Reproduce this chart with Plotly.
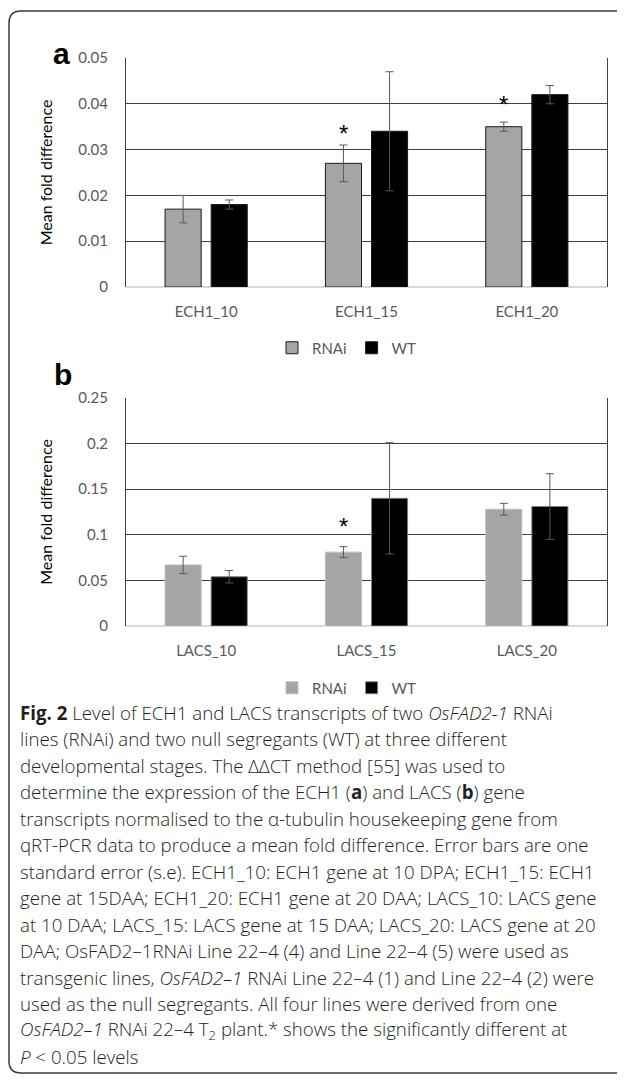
import plotly.graph_objects as go

# page is 625x1082; the html body keeps an 8px margin, so the figure is 609x1066
PAGE_W, PAGE_H = 625, 1082
OFF = 8
W, H = PAGE_W - 2 * OFF, PAGE_H - 2 * OFF

# ---------------- data ----------------
cats_a = ["ECH1_10", "ECH1_15", "ECH1_20"]
rnai_a = [0.017, 0.027, 0.035]
rnai_a_err = [0.003, 0.004, 0.001]
wt_a = [0.018, 0.034, 0.042]
wt_a_err = [0.001, 0.013, 0.002]
sig_a_cats = ["ECH1_15", "ECH1_20"]
sig_a_y = [0.0349, 0.0412]

cats_b = ["LACS_10", "LACS_15", "LACS_20"]
rnai_b = [0.067, 0.081, 0.128]
rnai_b_err = [0.0095, 0.006, 0.0065]
wt_b = [0.054, 0.140, 0.131]
wt_b_err = [0.0068, 0.061, 0.036]
sig_b_cats = ["LACS_15"]
sig_b_y = [0.116]

yticks_a = [0, 0.01, 0.02, 0.03, 0.04, 0.05]
yticks_b = [0, 0.05, 0.1, 0.15, 0.2, 0.25]
ytext_a = ["0", "0.01", "0.02", "0.03", "0.04", "0.05"]
ytext_b = ["0", "0.05", "0.1", "0.15", "0.2", "0.25"]

series_names = ["RNAi", "WT"]
y_title = "Mean fold difference"

caption_lines = [
    "<b>Fig. 2</b> Level of ECH1 and LACS transcripts of two <i>OsFAD2-1</i> RNAi",
    "lines (RNAi) and two null segregants (WT) at three different",
    "developmental stages. The ΔΔCT method [55] was used to",
    "determine the expression of the ECH1 (<b>a</b>) and LACS (<b>b</b>) gene",
    "transcripts normalised to the α-tubulin housekeeping gene from",
    "qRT-PCR data to produce a mean fold difference. Error bars are one",
    "standard error (s.e). ECH1_10: ECH1 gene at 10 DPA; ECH1_15: ECH1",
    "gene at 15DAA; ECH1_20: ECH1 gene at 20 DAA; LACS_10: LACS gene",
    "at 10 DAA; LACS_15: LACS gene at 15 DAA; LACS_20: LACS gene at 20",
    "DAA; OsFAD2–1RNAi Line 22–4 (4) and Line 22–4 (5) were used as",
    "transgenic lines, <i>OsFAD2–1</i> RNAi Line 22–4 (1) and Line 22–4 (2) were",
    "used as the null segregants. All four lines were derived from one",
    "<i>OsFAD2–1</i> RNAi 22–4 T<sub>2</sub> plant.* shows the significantly different at",
    "<i>P</i> &lt; 0.05 levels",
]

# ---------------- styles ----------------
GRAY = "#a5a5a5"
BLACK = "#000000"
ERR = "#595959"
TICK = "#595959"
CHART_FONT = "Lato"
CAP_FONT = "Open Sans"


def px_x(p):
    return (p - OFF) / W


def px_y(p):
    return 1 - (p - OFF) / H


dom_x = [px_x(126), px_x(607)]
dom_ya = [px_y(287), px_y(58)]
dom_yb = [px_y(626), px_y(398)]

fig = go.Figure()


def add_bars(cats, r, re, w, we, xa, ya, legend, outline_r, outline_w):
    fig.add_trace(go.Bar(
        x=cats, y=r, name=series_names[0], xaxis=xa, yaxis=ya, legend=legend,
        marker=dict(color=GRAY, line=dict(color=outline_r, width=1)),
        error_y=dict(type="data", array=re, visible=True, color=ERR, thickness=1, width=4),
    ))
    fig.add_trace(go.Bar(
        x=cats, y=w, name=series_names[1], xaxis=xa, yaxis=ya, legend=legend,
        marker=dict(color=BLACK, line=dict(color=outline_w, width=1)),
        error_y=dict(type="data", array=we, visible=True, color=ERR, thickness=1, width=4),
    ))


add_bars(cats_a, rnai_a, rnai_a_err, wt_a, wt_a_err, "x", "y", "legend", "#1a1a1a", "#1a1a1a")
add_bars(cats_b, rnai_b, rnai_b_err, wt_b, wt_b_err, "x2", "y2", "legend2", "#bfbfbf", "#7f7f7f")

xcommon = dict(type="category", showline=False, showgrid=False, ticks="",
               tickfont=dict(family=CHART_FONT, size=15, color=TICK),
               ticklabelstandoff=14, zeroline=False, fixedrange=True, automargin=False)
ycommon = dict(showgrid=True, gridcolor="#404040", gridwidth=1,
               showline=True, linecolor="#404040", linewidth=1, mirror=True,
               zeroline=True, zerolinecolor="#d9d9d9", zerolinewidth=1.5,
               ticks="", tickfont=dict(family=CHART_FONT, size=15, color=TICK),
               ticklabelstandoff=14, automargin=False, fixedrange=True,
               title=dict(text=y_title, font=dict(family=CHART_FONT, size=16, color="#000000"), standoff=21))

fig.update_layout(
    width=W, height=H,
    margin=dict(l=0, r=0, t=0, b=0, autoexpand=False),
    paper_bgcolor="white", plot_bgcolor="white",
    barmode="group", bargap=0.425, bargroupgap=0.217,
    xaxis=dict(domain=dom_x, anchor="y", **xcommon),
    yaxis=dict(domain=dom_ya, anchor="x", range=[0, 0.05], tickvals=yticks_a, ticktext=ytext_a, **ycommon),
    xaxis2=dict(domain=dom_x, anchor="y2", **xcommon),
    yaxis2=dict(domain=dom_yb, anchor="x2", range=[0, 0.25], tickvals=yticks_b, ticktext=ytext_b, **ycommon),
    legend=dict(orientation="h", x=px_x(347), xanchor="center", y=px_y(348), yanchor="middle",
                font=dict(family=CHART_FONT, size=15, color=TICK), itemwidth=30,
                bgcolor="rgba(0,0,0,0)", tracegroupgap=0),
    legend2=dict(orientation="h", x=px_x(347), xanchor="center", y=px_y(688), yanchor="middle",
                 font=dict(family=CHART_FONT, size=15, color=TICK), itemwidth=30,
                 bgcolor="rgba(0,0,0,0)", tracegroupgap=0),
    showlegend=True,
)

annotations = []
# significance stars
for c, yv in zip(sig_a_cats, sig_a_y):
    annotations.append(dict(x=c, y=yv, xref="x", yref="y", text="*", showarrow=False,
                            xshift=-23, yshift=-6, font=dict(family="Liberation Sans", size=24, color="#000000")))
for c, yv in zip(sig_b_cats, sig_b_y):
    annotations.append(dict(x=c, y=yv, xref="x2", yref="y2", text="*", showarrow=False,
                            xshift=-23, yshift=-6, font=dict(family="Liberation Sans", size=24, color="#000000")))
# panel letters
annotations.append(dict(x=px_x(51), y=px_y(35), xref="paper", yref="paper", text="<b>a</b>",
                        showarrow=False, font=dict(family="Liberation Sans", size=30, color="#000000")))
annotations.append(dict(x=px_x(52), y=px_y(374), xref="paper", yref="paper", text="<b>b</b>",
                        showarrow=False, font=dict(family="Liberation Sans", size=30, color="#000000")))
# caption
cap_top = 712
cap_step = 26.5
for i, line in enumerate(caption_lines):
    annotations.append(dict(x=px_x(18), y=px_y(cap_top + i * cap_step), xref="paper", yref="paper",
                            text=line, showarrow=False, xanchor="left", yanchor="middle",
                            font=dict(family=CAP_FONT, size=18.7, color="#231f20", weight=300)))
fig.update_layout(annotations=annotations)

# outer rounded frame (right side runs off the page)
xL, yT, yB, xR, r = 9, 11, 1073, 660, 12
path = (f"M {px_x(xR)},{px_y(yT)} L {px_x(xL + r)},{px_y(yT)} "
        f"Q {px_x(xL)},{px_y(yT)} {px_x(xL)},{px_y(yT + r)} "
        f"L {px_x(xL)},{px_y(yB - r)} Q {px_x(xL)},{px_y(yB)} {px_x(xL + r)},{px_y(yB)} "
        f"L {px_x(xR)},{px_y(yB)}")
fig.add_shape(type="path", path=path, xref="paper", yref="paper",
              line=dict(color="#3a3a3a", width=1.5))

fig.write_html("out.html")
